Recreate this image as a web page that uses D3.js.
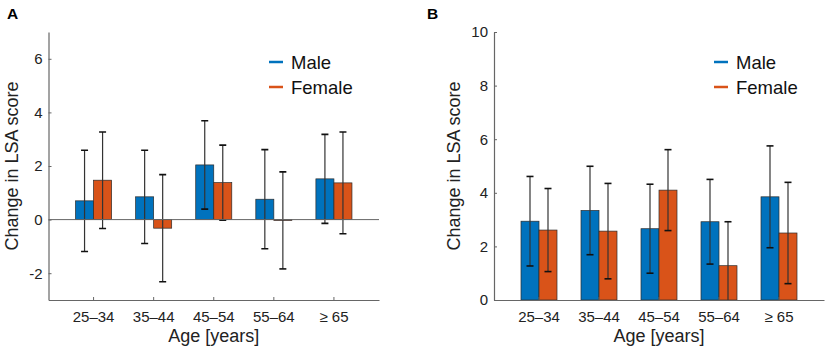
<!DOCTYPE html>
<html>
<head>
<meta charset="utf-8">
<script src="https://cdn.jsdelivr.net/npm/d3@7"></script>
<style>
  body { margin: 0; background: #fff; }
  svg { display: block; font-family: "Liberation Sans", Arial, Helvetica, sans-serif; }
</style>
</head>
<body>
<svg id="chart" width="829" height="352"></svg>
<script>
// Data
const ageGroups = ['25–34', '35–44', '45–54', '55–64', '≥ 65'];
const seriesNames = ['Male', 'Female'];

// Panel A
const maleMeanA = [0.70, 0.85, 2.04, 0.76, 1.52];
const maleErrA = [1.89, 1.74, 1.65, 1.85, 1.66];
const femaleMeanA = [1.47, -0.32, 1.38, -0.03, 1.37];
const femaleErrA = [1.80, 2.00, 1.40, 1.81, 1.90];
const yTicksA = [-2, 0, 2, 4, 6];

// Panel B
const maleMeanB = [2.94, 3.34, 2.66, 2.92, 3.85];
const maleErrB = [1.67, 1.65, 1.66, 1.58, 1.90];
const femaleMeanB = [2.61, 2.57, 4.10, 1.28, 2.50];
const femaleErrB = [1.55, 1.78, 1.51, 1.64, 1.89];
const yTicksB = [0, 2, 4, 6, 8, 10];

const COLORS = { Male: '#0072BD', Female: '#D95319' };
const AXIS_COLOR = '#666';

const svg = d3.select('#chart');

function drawPanel(cfg) {
    const { left, right, top, bottom } = cfg;

    const x = d3.scaleBand()
        .domain(ageGroups)
        .range([left, right])
        .paddingInner(0)
        .paddingOuter(0.25);

    const xSub = d3.scaleBand()
        .domain(seriesNames)
        .range([0, x.step() * 0.6]);

    const y = d3.scaleLinear()
        .domain(cfg.yDomain)
        .range([bottom, top]);

    const g = svg.append('g');

    // Clip to the plot box
    g.append('clipPath')
        .attr('id', `clip-${cfg.letter}`)
        .append('rect')
        .attr('x', left)
        .attr('y', top)
        .attr('width', right - left)
        .attr('height', bottom - top);

    const plot = g.append('g').attr('clip-path', `url(#clip-${cfg.letter})`);

    const rows = [];
    ageGroups.forEach((age, i) => {
        rows.push({ age, name: 'Male', mean: cfg.maleMean[i], err: cfg.maleErr[i] });
        rows.push({ age, name: 'Female', mean: cfg.femaleMean[i], err: cfg.femaleErr[i] });
    });

    const barX = d => x(d.age) + x.bandwidth() / 2 - xSub.bandwidth() + xSub(d.name);

    // Bars
    plot.selectAll('rect.bar')
        .data(rows)
        .join('rect')
        .attr('class', 'bar')
        .attr('x', barX)
        .attr('width', xSub.bandwidth())
        .attr('y', d => y(Math.max(0, d.mean)))
        .attr('height', d => Math.abs(y(d.mean) - y(0)))
        .attr('fill', d => COLORS[d.name])
        .attr('stroke', '#2b2b2b')
        .attr('stroke-width', 0.7);

    // Zero line
    if (cfg.yDomain[0] < 0) {
        g.append('line')
            .attr('x1', left)
            .attr('x2', right)
            .attr('y1', y(0))
            .attr('y2', y(0))
            .attr('stroke', AXIS_COLOR)
            .attr('stroke-width', 1);
    }

    // Error bars
    const eb = plot.selectAll('g.eb')
        .data(rows)
        .join('g')
        .attr('class', 'eb')
        .attr('transform', d => `translate(${barX(d) + xSub.bandwidth() / 2},0)`);

    eb.append('line')
        .attr('y1', d => y(d.mean - d.err))
        .attr('y2', d => y(d.mean + d.err))
        .attr('stroke', '#333')
        .attr('stroke-width', 1.2);

    const capW = 3.5;
    [-1, 1].forEach(s => {
        eb.append('line')
            .attr('x1', -capW)
            .attr('x2', capW)
            .attr('y1', d => y(d.mean + s * d.err))
            .attr('y2', d => y(d.mean + s * d.err))
            .attr('stroke', '#111')
            .attr('stroke-width', 1.6);
    });

    // Axes
    const yAxis = d3.axisLeft(y)
        .tickValues(cfg.yTicks)
        .tickFormat(d => String(d))
        .tickSize(-3)
        .tickSizeOuter(0)
        .tickPadding(6);

    const xAxis = d3.axisBottom(x)
        .tickSize(-3)
        .tickSizeOuter(0)
        .tickPadding(11);

    const yG = g.append('g')
        .attr('transform', `translate(${left},0)`)
        .call(yAxis);

    const xG = g.append('g')
        .attr('transform', `translate(0,${bottom})`)
        .call(xAxis);

    [yG, xG].forEach(ax => {
        ax.select('.domain').attr('stroke', AXIS_COLOR).attr('stroke-width', 1.2);
        ax.selectAll('.tick line').attr('stroke', AXIS_COLOR);
        ax.selectAll('.tick text')
            .attr('fill', '#222')
            .style('font-size', '15px')
            .style('font-family', '"Liberation Sans", Arial, sans-serif');
    });

    // Axis labels
    g.append('text')
        .attr('x', (left + right) / 2)
        .attr('y', 342)
        .attr('text-anchor', 'middle')
        .attr('fill', '#222')
        .style('font-size', '18px')
        .text('Age [years]');

    g.append('text')
        .attr('transform', `translate(${cfg.yLabelX},${(top + bottom) / 2}) rotate(-90)`)
        .attr('text-anchor', 'middle')
        .attr('fill', '#222')
        .style('font-size', '18px')
        .text('Change in LSA score');

    // Panel letter
    g.append('text')
        .attr('x', cfg.letterX)
        .attr('y', 18.5)
        .attr('fill', '#000')
        .style('font-size', '15.5px')
        .style('font-weight', 'bold')
        .text(cfg.letter);

    // Legend
    const legend = g.append('g')
        .attr('transform', `translate(${cfg.legendX},62)`);

    seriesNames.forEach((name, i) => {
        legend.append('line')
            .attr('x1', 0)
            .attr('x2', 14)
            .attr('y1', i * 25)
            .attr('y2', i * 25)
            .attr('stroke', COLORS[name])
            .attr('stroke-width', 2.5);
        legend.append('text')
            .attr('x', 22)
            .attr('y', i * 25 + 6.5)
            .attr('fill', '#111')
            .style('font-size', '18.5px')
            .text(name);
    });
}

drawPanel({
    letter: 'A', letterX: 7,
    left: 48.5, right: 379, top: 32, bottom: 300,
    yDomain: [-3, 7], yTicks: yTicksA,
    maleMean: maleMeanA, maleErr: maleErrA,
    femaleMean: femaleMeanA, femaleErr: femaleErrA,
    yLabelX: 18, legendX: 269
});

drawPanel({
    letter: 'B', letterX: 427,
    left: 494, right: 824, top: 32, bottom: 300,
    yDomain: [0, 10], yTicks: yTicksB,
    maleMean: maleMeanB, maleErr: maleErrB,
    femaleMean: femaleMeanB, femaleErr: femaleErrB,
    yLabelX: 460, legendX: 714
});
</script>
</body>
</html>
